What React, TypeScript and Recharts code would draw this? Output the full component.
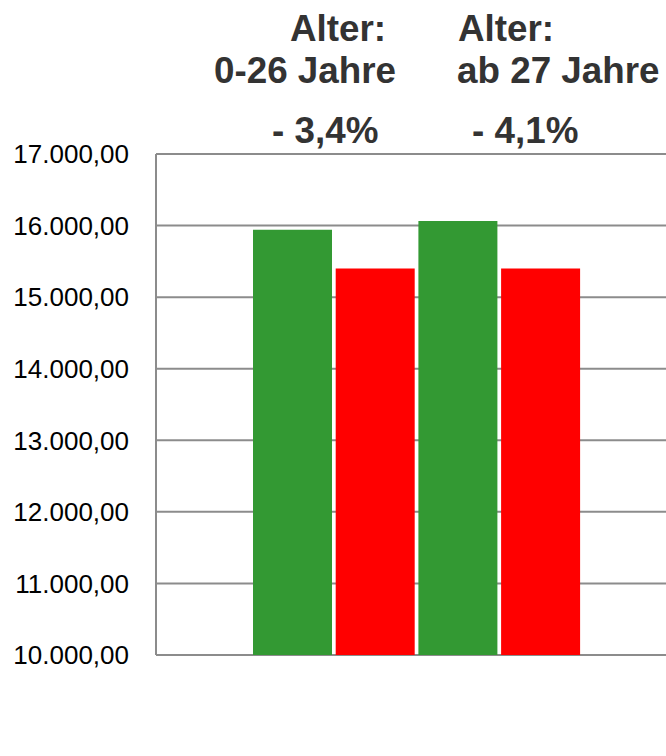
import React from 'react';
import { BarChart, Bar, XAxis, YAxis, CartesianGrid } from 'recharts';

const groups = ['0-26 Jahre', 'ab 27 Jahre'];
const before = [15940, 16065];
const after = [15400, 15400];
const changes = ['- 3,4%', '- 4,1%'];
const yTicks = [10000, 11000, 12000, 13000, 14000, 15000, 16000, 17000];

const GREEN = '#339933';
const RED = '#ff0000';
const GRID = '#8c8c8c';
const FONT = '"Liberation Sans", Arial, sans-serif';

// one category, four bars side by side: green/red per age group
const row: Record<string, number | string> = { name: 'alle' };
groups.forEach((_, i) => {
  row['vorher' + i] = before[i];
  row['nachher' + i] = after[i];
});
const data = [row];

function fmt(v: number) {
  const int = Math.round(v).toString().replace(/\B(?=(\d{3})+(?!\d))/g, '.');
  return int + ',00';
}

// header text above the bars
const headerX = [
  { alter: 290, group: 214, change: 272 },
  { alter: 458, group: 457, change: 472 },
];

export default function App() {
  return (
    <div style={{ position: 'absolute', left: 0, top: 0, width: 666, height: 756, overflow: 'hidden', background: '#fff' }}>
      <BarChart
        width={680}
        height={756}
        data={data}
        margin={{ top: 154, right: 2, bottom: 101, left: 0 }}
        barSize={79}
        barGap={3.7}
        barCategoryGap={0}
      >
        <CartesianGrid vertical={false} stroke={GRID} strokeWidth={2} />
        <XAxis dataKey="name" hide />
        <YAxis
          width={156}
          domain={[10000, 17000]}
          ticks={yTicks}
          tickFormatter={fmt}
          tickLine={false}
          tickSize={0}
          tickMargin={27}
          axisLine={{ stroke: GRID, strokeWidth: 2 }}
          tick={{ fill: '#000', fontSize: 26, fontFamily: FONT }}
          allowDataOverflow
        />
        {groups.map((g, i) => [
          <Bar key={'v' + i} dataKey={'vorher' + i} fill={GREEN} isAnimationActive={false} />,
          <Bar key={'n' + i} dataKey={'nachher' + i} fill={RED} isAnimationActive={false} />,
        ])}
      </BarChart>
      <svg width={666} height={160} style={{ position: 'absolute', left: 0, top: 0, pointerEvents: 'none' }}>
        {groups.map((g, i) => (
          <g key={g} fill="#333333" fontFamily={FONT} fontWeight="bold" fontSize={36.8}>
            <text x={headerX[i].alter} y={41}>Alter:</text>
            <text x={headerX[i].group} y={83}>{g}</text>
            <text x={headerX[i].change} y={143}>{changes[i]}</text>
          </g>
        ))}
      </svg>
    </div>
  );
}
